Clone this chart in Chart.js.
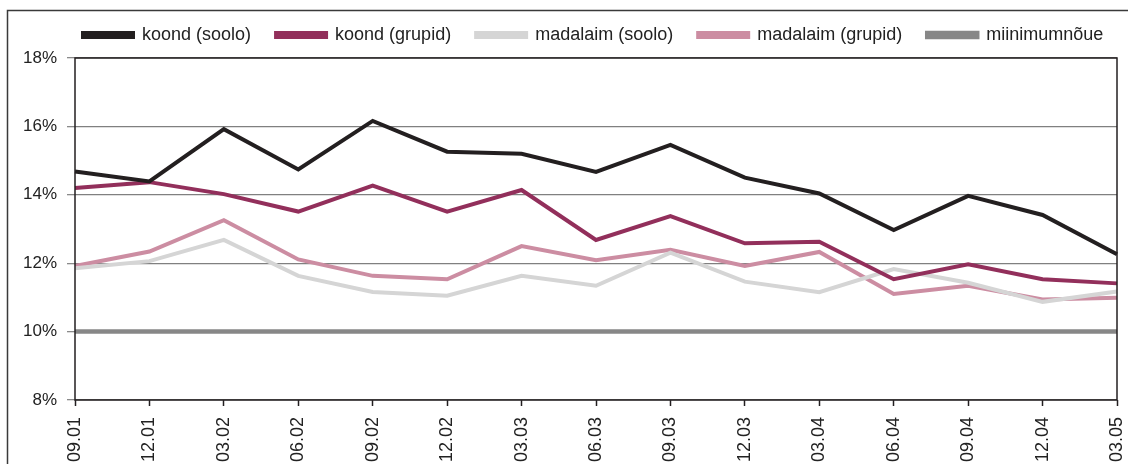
<!DOCTYPE html>
<html>
<head>
<meta charset="utf-8">
<script src="https://cdn.jsdelivr.net/npm/chart.js@4/dist/chart.umd.min.js"></script>
<style>
html,body{margin:0;padding:0;background:#fff;overflow:hidden;}
canvas{display:block;}
</style>
</head>
<body>
<canvas id="c" width="1128" height="464"></canvas>
<script>
const categories = ['09.01','12.01','03.02','06.02','09.02','12.02','03.03','06.03','09.03','12.03','03.04','06.04','09.04','12.04','03.05'];
const koondSoolo = [14.68,14.39,15.92,14.74,16.16,15.26,15.20,14.67,15.46,14.50,14.04,12.97,13.97,13.41,12.26];
const koondGrupid = [14.20,14.37,14.02,13.51,14.27,13.51,14.14,12.68,13.38,12.58,12.63,11.53,11.97,11.53,11.41];
const madalaimSoolo = [11.85,12.06,12.68,11.63,11.16,11.05,11.63,11.34,12.31,11.46,11.15,11.83,11.43,10.87,11.17];
const madalaimGrupid = [11.92,12.34,13.26,12.11,11.63,11.53,12.50,12.09,12.39,11.92,12.33,11.10,11.34,10.94,10.99];
const miinimum = [10,10,10,10,10,10,10,10,10,10,10,10,10,10,10];
const seriesNames = ['koond (soolo)','koond (grupid)','madalaim (soolo)','madalaim (grupid)','miinimumnõue'];
const yTicks = [8,10,12,14,16,18];

const FONT = 'Liberation Sans, Arial, sans-serif';

const framePlugin = {
  id: 'frame',
  beforeInit(chart) {
    const origFit = chart.legend.fit;
    chart.legend.fit = function () {
      origFit.call(this);
      this.height = 58;
    };
  },
  afterLayout(chart) {
    chart.legend.left = 58;
    chart.legend.right = 1300;
    chart.legend.top = 1;
  },
  beforeDraw(chart) {
    const ctx = chart.ctx;
    ctx.save();
    ctx.fillStyle = '#fff';
    ctx.fillRect(0, 0, chart.width, chart.height);
    ctx.strokeStyle = '#3a3a3a';
    ctx.lineWidth = 1.5;
    ctx.beginPath();
    ctx.moveTo(7.5, chart.height + 2);
    ctx.lineTo(7.5, 10.5);
    ctx.lineTo(chart.width + 2, 10.5);
    ctx.stroke();
    ctx.restore();
  },
  afterDraw(chart) {
    const a = chart.chartArea;
    const ctx = chart.ctx;
    ctx.save();
    ctx.strokeStyle = '#231f20';
    ctx.lineWidth = 1.5;
    ctx.strokeRect(a.left, a.top, a.right - a.left, a.bottom - a.top);
    ctx.restore();
  }
};

const mk = (label, data, color, width) => ({
  label, data,
  borderColor: color, backgroundColor: color,
  borderWidth: width, pointRadius: 0, tension: 0, fill: false
});

new Chart(document.getElementById('c'), {
  type: 'line',
  data: {
    labels: categories,
    datasets: [
      mk(seriesNames[0], koondSoolo, '#231f20', 4),
      mk(seriesNames[1], koondGrupid, '#922f5b', 4),
      mk(seriesNames[2], madalaimSoolo, '#d5d5d5', 4),
      mk(seriesNames[3], madalaimGrupid, '#cc8da2', 4),
      mk(seriesNames[4], miinimum, '#878787', 4.5)
    ]
  },
  options: {
    responsive: false,
    animation: false,
    devicePixelRatio: 1,
    layout: { padding: { left: 0, right: 11, top: 0, bottom: 0 } },
    plugins: {
      legend: {
        position: 'top',
        align: 'start',
        labels: {
          font: { family: FONT, size: 18 },
          color: '#222',
          boxWidth: 50,
          boxHeight: 4,
          padding: 25
        }
      },
      tooltip: { enabled: false }
    },
    scales: {
      x: {
        offset: false,
        border: { display: false },
        grid: { display: true, drawOnChartArea: false, drawTicks: true, tickLength: 6, tickColor: '#231f20', tickWidth: 1.5 },
        ticks: {
          autoSkip: false, maxRotation: 90, minRotation: 90, padding: 11,
          font: { family: FONT, size: 18 }, color: '#222'
        },
        afterFit(s) { s.height = 64; s.paddingLeft = 0; s.paddingRight = 0; }
      },
      y: {
        min: 8, max: 18,
        border: { display: false },
        grid: { color: '#808080', lineWidth: 1.3, tickLength: 8, tickColor: '#8a8a8a', tickWidth: 1.3 },
        afterBuildTicks(s) { s.ticks = yTicks.map(v => ({ value: v })); },
        ticks: {
          padding: 10, autoSkip: false,
          font: { family: FONT, size: 17 }, color: '#222',
          callback: v => v + '%'
        },
        afterFit(s) { s.width = 75; s.paddingTop = 0; s.paddingBottom = 0; }
      }
    }
  },
  plugins: [framePlugin]
});
</script>
</body>
</html>
